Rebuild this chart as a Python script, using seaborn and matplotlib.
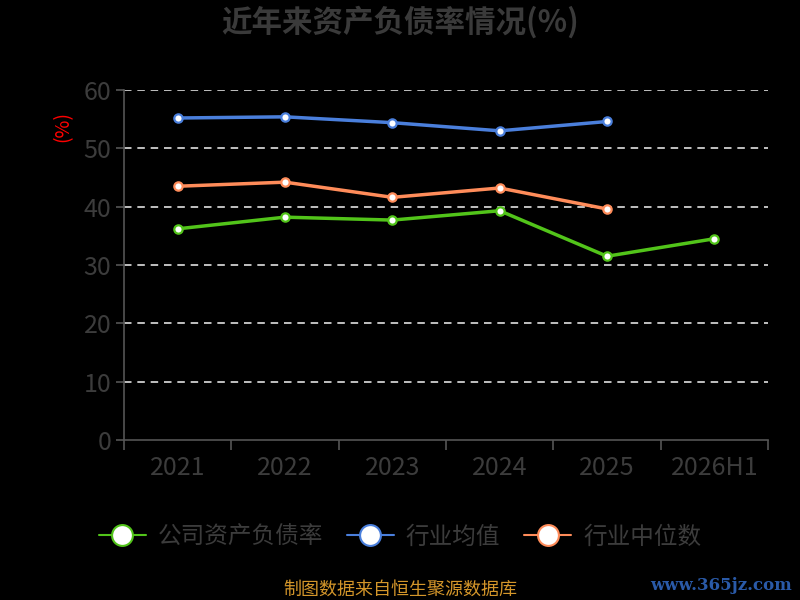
import matplotlib
matplotlib.use("Agg")
import matplotlib.pyplot as plt
import pandas as pd
import seaborn as sns

# values
years = ['2021', '2022', '2023', '2024', '2025', '2026H1']
company_ratio = [36.2, 38.2, 37.7, 39.3, 31.5, 34.5]
industry_mean = [55.2, 55.4, 54.4, 53.0, 54.6, None]
industry_median = [43.5, 44.2, 41.6, 43.2, 39.6, None]
series_names = ['公司资产负债率', '行业均值', '行业中位数']
series_colors = ['#52c41a', '#4a7fdc', '#ff8c5a']
y_ticks = [0, 10, 20, 30, 40, 50, 60]

sns.set_theme(style='dark')
plt.rcParams['font.family'] = ['Noto Sans CJK SC', 'DejaVu Sans']
plt.rcParams['axes.unicode_minus'] = False

df = pd.DataFrame({
    'year': years * 3,
    'value': company_ratio + industry_mean + industry_median,
    'series': [series_names[0]] * 6 + [series_names[1]] * 6 + [series_names[2]] * 6,
})
df['x'] = list(range(len(years))) * 3
df = df.dropna()

fig = plt.figure(figsize=(8, 6), dpi=100, facecolor='black')
ax = fig.add_axes([0.155, 0.2667, 0.805, 0.5833])
ax.set_facecolor('black')

text_gray = '#3c3c3c'
axis_gray = '#555555'

# gridlines
for t in y_ticks[1:]:
    ax.axhline(t, color='#e0e0e0', lw=1.2, ls=(0, (4.5, 3.5)), zorder=1)

palette = dict(zip(series_names, series_colors))
sns.lineplot(data=df, x='x', y='value', hue='series', palette=palette,
             hue_order=series_names, lw=2.5, marker='o', markersize=6,
             markerfacecolor='white', markeredgewidth=1.6, legend=False,
             ax=ax, zorder=3)
# marker edges in series colors
for line, c in zip(ax.get_lines()[-3:], series_colors):
    line.set_markeredgecolor(c)

ax.set_xlim(-0.5, len(years) - 0.5)
ax.set_ylim(0, 60)
ax.set_yticks(y_ticks)
ax.set_yticklabels([str(t) for t in y_ticks], color=text_gray, fontsize=18)
ax.set_xticks(range(len(years)))
ax.set_xticklabels(years, color=text_gray, fontsize=18)
ax.tick_params(axis='x', length=0, pad=11)
ax.tick_params(axis='y', length=6, color=axis_gray, width=1.2, pad=3, left=True)
# x tick marks at category edges
ax.set_xticks([i - 0.5 for i in range(len(years) + 1)], minor=True)
ax.tick_params(axis='x', which='minor', length=7, color=axis_gray, width=1.2, bottom=True)
ax.set_xlabel('')
ax.set_ylabel('')
ax.grid(False)
for side in ['top', 'right']:
    ax.spines[side].set_visible(False)
for side in ['left', 'bottom']:
    ax.spines[side].set_visible(True)
    ax.spines[side].set_color(axis_gray)
    ax.spines[side].set_linewidth(1.2)

fig.text(0.5, 0.962, '近年来资产负债率情况(%)', ha='center', va='center',
         fontsize=22, fontweight='bold', color='#3a3a3a')
fig.text(0.078, 0.79, '(%)', ha='center', va='center', rotation=90,
         fontsize=14, color='#ff0000')

# legend
handles = [plt.Line2D([], [], color=c, lw=1.5, marker='o', markersize=15,
                      markerfacecolor='white', markeredgecolor=c, markeredgewidth=1.5)
           for c in series_colors]
leg = fig.legend(handles, series_names, loc='center', bbox_to_anchor=(0.5, 0.105),
                 ncol=3, frameon=False, fontsize=17, handlelength=2.0,
                 columnspacing=1.0, handletextpad=0.5)
for t in leg.get_texts():
    t.set_color(text_gray)

fig.text(0.5, 0.017, '制图数据来自恒生聚源数据库', ha='center', va='center',
         fontsize=13, color='#d4962a')
fig.text(0.99, 0.025, 'www.365jz.com', ha='right', va='center', fontsize=12,
         fontweight='bold', color='#2a5aa8', family=['DejaVu Serif'])

fig.savefig('out.png', dpi=100, facecolor='black')
